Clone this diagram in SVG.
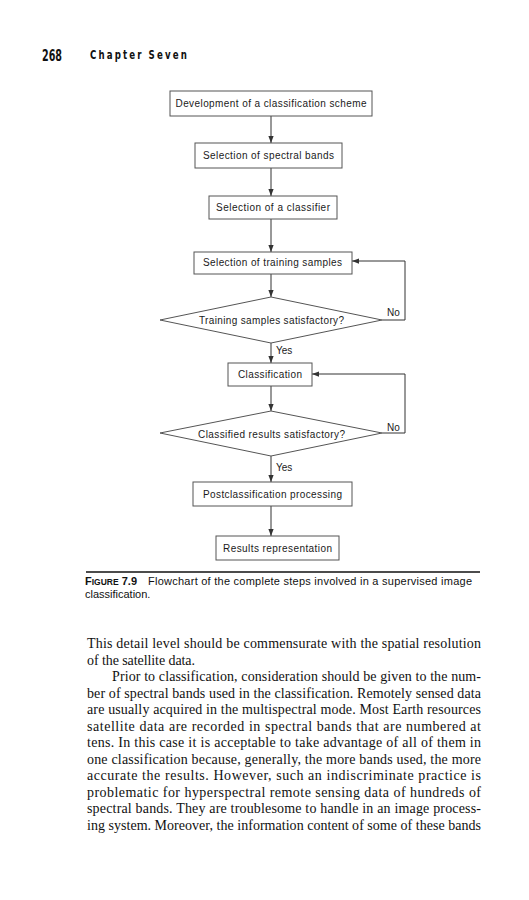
<svg xmlns="http://www.w3.org/2000/svg" width="529" height="900" viewBox="0 0 529 900">
<style>
.box{fill:#fff;stroke:#555;stroke-width:1}
.dia{fill:#fff;stroke:#555;stroke-width:1}
.fl{font-family:"Liberation Sans",Arial,sans-serif;font-size:10px;fill:#1a1a1a;text-anchor:middle}
.lb{font-family:"Liberation Sans",Arial,sans-serif;font-size:10px;fill:#1a1a1a}
.ln{fill:none;stroke:#333;stroke-width:1}
.cap{font-family:"Liberation Sans",Arial,sans-serif;font-size:11px;fill:#111}
.body{font-family:"Liberation Serif","Times New Roman",serif;font-size:14px;fill:#111}
</style>
<defs>
<marker id="ah" viewBox="0 0 8 8" refX="8" refY="4" markerWidth="7" markerHeight="7" markerUnits="userSpaceOnUse" orient="auto">
<path d="M0,1 L8,4 L0,7 Z" fill="#333"/>
</marker>
</defs>
<rect width="529" height="900" fill="#fff"/>
<g id="header">
<text x="42" y="61" font-family="'Liberation Sans Narrow','DejaVu Sans Condensed',sans-serif" font-weight="bold" font-size="16" textLength="20" lengthAdjust="spacingAndGlyphs" fill="#111">268</text>
<g transform="scale(0.8,1)">
<text x="112.5" y="59" font-family="'Liberation Sans Narrow','DejaVu Sans Condensed',sans-serif" font-weight="bold" font-size="12" textLength="121" lengthAdjust="spacing" fill="#111">Chapter Seven</text>
</g>
</g>
<g id="connectors">
<line class="ln" x1="271" y1="116" x2="271" y2="143" marker-end="url(#ah)"/>
<line class="ln" x1="271" y1="168" x2="271" y2="196" marker-end="url(#ah)"/>
<line class="ln" x1="271" y1="219" x2="271" y2="252" marker-end="url(#ah)"/>
<line class="ln" x1="271" y1="274" x2="271" y2="297" marker-end="url(#ah)"/>
<line class="ln" x1="271" y1="343" x2="271" y2="363" marker-end="url(#ah)"/>
<line class="ln" x1="271" y1="386" x2="271" y2="411" marker-end="url(#ah)"/>
<line class="ln" x1="271" y1="456" x2="271" y2="482" marker-end="url(#ah)"/>
<line class="ln" x1="271" y1="506" x2="271" y2="536" marker-end="url(#ah)"/>
<polyline class="ln" points="382,320 405,320 405,261 352,261" marker-end="url(#ah)"/>
<polyline class="ln" points="382,433 405,433 405,374 312,374" marker-end="url(#ah)"/>
<text class="lb" x="387" y="316">No</text>
<text class="lb" x="387" y="431">No</text>
<text class="lb" x="276" y="354">Yes</text>
<text class="lb" x="276" y="471">Yes</text>
</g>
<g id="n1"><rect class="box" x="170" y="91" width="202" height="25"/><text class="fl" x="271" y="107" textLength="191">Development of a classification scheme</text></g>
<g id="n2"><rect class="box" x="195" y="143" width="147" height="25"/><text class="fl" x="268.5" y="159" textLength="131">Selection of spectral bands</text></g>
<g id="n3"><rect class="box" x="209" y="196" width="128" height="23"/><text class="fl" x="273" y="211" textLength="114">Selection of a classifier</text></g>
<g id="n4"><rect class="box" x="194" y="252" width="158" height="22"/><text class="fl" x="272.5" y="266" textLength="139">Selection of training samples</text></g>
<g id="n5"><polygon class="dia" points="271,297 382,320 271,343 160,320"/><text class="fl" x="271.5" y="324" textLength="145">Training samples satisfactory?</text></g>
<g id="n6"><rect class="box" x="228" y="363" width="84" height="23"/><text class="fl" x="270" y="378" textLength="64">Classification</text></g>
<g id="n7"><polygon class="dia" points="271,411 382,433 271,456 160,433"/><text class="fl" x="271.5" y="438" textLength="147">Classified results satisfactory?</text></g>
<g id="n8"><rect class="box" x="193" y="482" width="159" height="24"/><text class="fl" x="272.5" y="498" textLength="139">Postclassification processing</text></g>
<g id="n9"><rect class="box" x="216" y="536" width="123" height="24"/><text class="fl" x="277.5" y="552" textLength="109">Results representation</text></g>
<g id="caption">
<line x1="86" y1="572" x2="480" y2="572" stroke="#111" stroke-width="1.3"/>
<text class="cap" x="85" y="585" font-weight="bold">F<tspan font-size="8.5">IGURE</tspan> 7.9</text>
<text class="cap" x="148" y="585" textLength="324" lengthAdjust="spacing">Flowchart of the complete steps involved in a supervised image</text>
<text class="cap" x="85" y="598">classification.</text>
</g>
<g id="body">
<text class="body" x="87" y="648" textLength="394" lengthAdjust="spacing">This detail level should be commensurate with the spatial resolution</text>
<text class="body" x="87" y="664.5" textLength="108" lengthAdjust="spacing">of the satellite data.</text>
<text class="body" x="112" y="681" textLength="369" lengthAdjust="spacing">Prior to classification, consideration should be given to the num-</text>
<text class="body" x="87" y="697.5" textLength="394" lengthAdjust="spacing">ber of spectral bands used in the classification. Remotely sensed data</text>
<text class="body" x="87" y="714" textLength="394" lengthAdjust="spacing">are usually acquired in the multispectral mode. Most Earth resources</text>
<text class="body" x="87" y="730.5" textLength="394" lengthAdjust="spacing">satellite data are recorded in spectral bands that are numbered at</text>
<text class="body" x="87" y="747" textLength="394" lengthAdjust="spacing">tens. In this case it is acceptable to take advantage of all of them in</text>
<text class="body" x="87" y="763.5" textLength="394" lengthAdjust="spacing">one classification because, generally, the more bands used, the more</text>
<text class="body" x="87" y="780" textLength="394" lengthAdjust="spacing">accurate the results. However, such an indiscriminate practice is</text>
<text class="body" x="87" y="796.5" textLength="394" lengthAdjust="spacing">problematic for hyperspectral remote sensing data of hundreds of</text>
<text class="body" x="87" y="813" textLength="394" lengthAdjust="spacing">spectral bands. They are troublesome to handle in an image process-</text>
<text class="body" x="87" y="829.5" textLength="394" lengthAdjust="spacing">ing system. Moreover, the information content of some of these bands</text>
</g>
</svg>
